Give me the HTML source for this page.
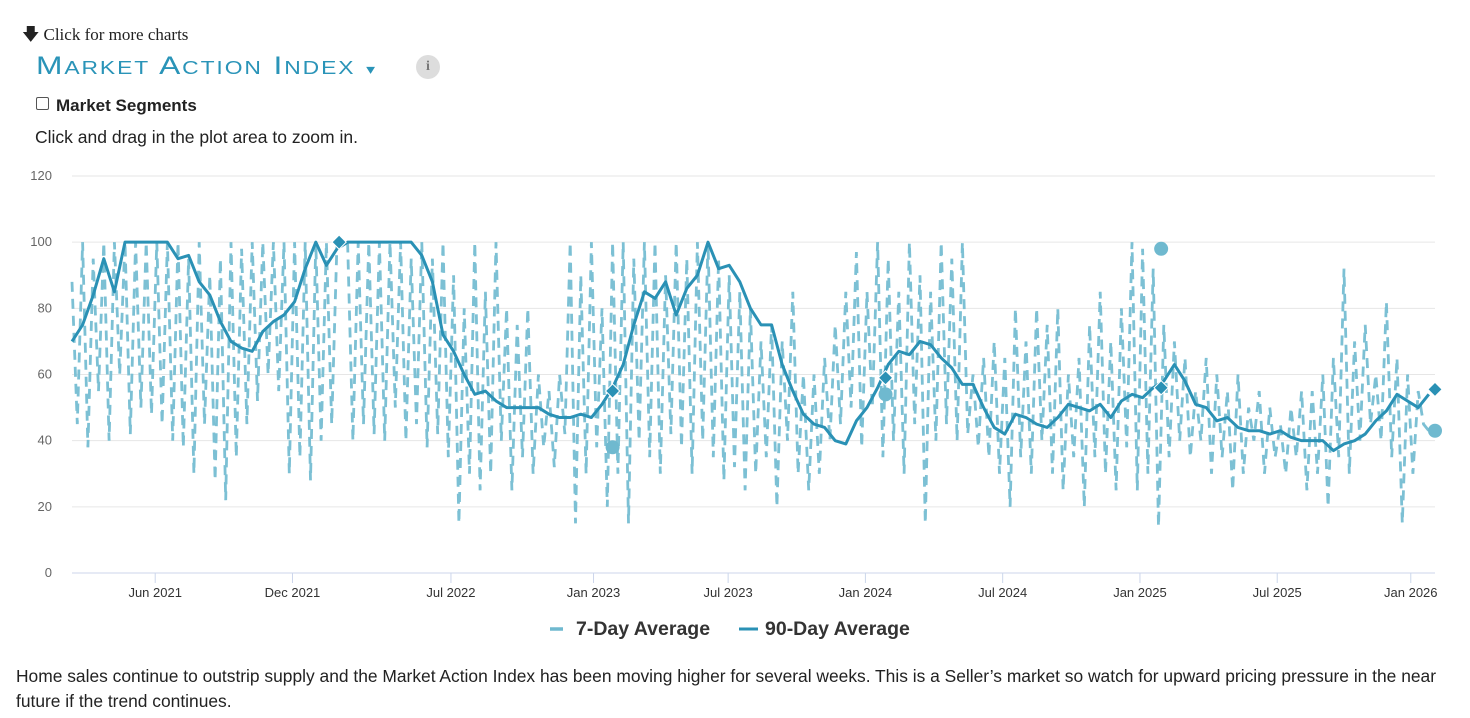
<!DOCTYPE html>
<html><head><meta charset="utf-8"><style>
body{margin:0;width:1470px;height:718px;background:#fff;font-family:"Liberation Sans",Arial,sans-serif;color:#333;position:relative;overflow:hidden}
.a{position:absolute;white-space:nowrap}
</style></head><body>
<div class="a" style="left:22px;top:22px;font-family:'Liberation Serif',serif;font-size:17px;color:#222">&#x1F847;&#xFE0E;<span style="margin-left:4px">Click for more charts</span></div>
<div class="a" style="left:36px;top:52px;font-size:25px;color:#2a94b8;font-variant:small-caps;letter-spacing:1.5px;transform:scaleX(1.27);transform-origin:left">Market Action Index <span style="font-size:14px">&#9662;</span></div>
<div class="a" style="left:416px;top:55px;width:24px;height:24px;border-radius:50%;background:#ddd;color:#777;font-family:'Liberation Serif',serif;font-weight:bold;font-size:14px;text-align:center;line-height:24px">i</div>
<div class="a" style="left:36px;top:97px;width:11px;height:11px;border:1px solid #555;border-radius:2px"></div>
<div class="a" style="left:56px;top:96px;font-size:17px;font-weight:bold;color:#222">Market Segments</div>
<div class="a" style="left:35px;top:127px;font-size:17.5px;color:#222">Click and drag in the plot area to zoom in.</div>
<svg class="a" style="left:0;top:0" width="1470" height="718" id="chart"></svg>
<div class="a" style="left:16px;top:664px;font-size:17.4px;line-height:25px;color:#222;white-space:normal;width:1450px">Home sales continue to outstrip supply and the Market Action Index has been moving higher for several weeks. This is a Seller’s market so watch for upward pricing pressure in the near future if the trend continues.</div>
<script>
const yTicks=[0,20,40,60,80,100,120];
const xTickLabels=["Jun 2021","Dec 2021","Jul 2022","Jan 2023","Jul 2023","Jan 2024","Jul 2024","Jan 2025","Jul 2025","Jan 2026"];
const xTickWeeks=[15.7,41.6,71.5,98.4,123.8,149.7,175.6,201.5,227.4,252.6];
const sevenDay=[88,45,100,38,95,55,100,40,100,60,
100,42,100,50,100,48,100,45,100,40,
100,38,95,30,100,45,90,28,95,22,
100,35,98,45,100,52,100,60,100,55,
100,30,100,35,100,28,100,40,100,45,
100,100,100,40,100,45,100,42,100,40,
100,50,100,40,95,45,100,38,95,42,
100,35,90,15,80,30,100,25,85,30,
100,40,80,25,75,35,80,30,60,38,
55,32,60,42,100,15,90,30,100,38,
80,20,100,30,100,15,95,40,100,35,
100,30,90,42,100,38,95,30,100,40,
100,35,95,28,90,32,85,25,80,30,
70,35,75,20,70,40,85,30,60,25,
60,30,65,40,75,45,85,50,97,38,
85,50,100,35,95,40,85,30,100,45,
90,15,85,40,100,45,95,40,100,42,
60,38,65,35,70,30,65,20,80,35,
70,30,80,40,75,30,80,25,60,35,
65,20,75,35,85,30,70,25,80,38,
100,25,98,30,92,14,75,35,70,40,
65,35,55,40,65,30,60,35,55,25,
60,30,50,40,55,30,50,35,45,30,
50,35,55,25,55,30,60,20,65,35,
92,30,70,40,75,45,60,40,82,35,
65,15,60,30,55,45,43];
const ninetyDay=[70,75,84,95,85,100,100,100,100,100,95,96,88,84,76,70,68,67,73,76,78,82,92,100,93,98,100,100,100,100,100,100,100,96,88,72,67,60,54,55,52,50,50,50,50,48,47,47,48,47,51,56,63,75,85,83,88,78,86,90,100,92,93,88,80,75,75,63,55,48,45,44,40,39,46,50,56,63,67,66,70,69,65,62,57,57,50,44,42,48,47,45,44,47,51,50,49,51,47,52,54,53,56,58,63,58,51,50,46,47,44,43,43,42,43,41,40,40,40,37,39,40,42,46,49,54,52,50,54];
const markerWeeks=[50.4,102,153.5,205.5,258];
const markerNinety=[100,55,59,56,55.5];
const circleWeeks=[102,153.5,205.5,258];
const circleSeven=[38,54,98,43];
const X0=72,X1=1435,Y0=573,YTOP=176;
const xs=w=>X0+w*5.3, ys=v=>Y0-(v/120)*(Y0-YTOP);
const svg=document.getElementById('chart'),NS='http://www.w3.org/2000/svg';
function mk(t,a){const e=document.createElementNS(NS,t);for(const k in a)e.setAttribute(k,a[k]);svg.appendChild(e);return e;}
yTicks.forEach(v=>{
 const l=mk('line',{x1:X0,x2:X1,y1:ys(v),y2:ys(v),stroke:v===0?'#ccd6eb':'#e6e6e6','stroke-width':1});
 
 
 const t=mk('text',{x:52,y:ys(v)+4,'text-anchor':'end','font-size':13,fill:'#666'});t.textContent=v;
 
 
});
xTickLabels.forEach((s,i)=>{
 const x=xs(xTickWeeks[i]);
 const l=mk('line',{x1:x,x2:x,y1:Y0,y2:Y0+10,stroke:'#ccd6eb'});
 
 
 const t=mk('text',{x:x,y:597,'text-anchor':'middle','font-size':13,fill:'#333'});t.textContent=s;
 
 
});
const p7=mk('polyline',{points:sevenDay.map((v,i)=>xs(i)+','+ys(v)).join(' '),fill:'none',stroke:'#7cc0d4','stroke-width':2.8,'stroke-dasharray':'10,7'});


const p90=mk('polyline',{points:ninetyDay.map((v,i)=>xs(i*2)+','+ys(v)).join(' '),fill:'none',stroke:'#2a91b5','stroke-width':3,'stroke-linejoin':'round'});


circleWeeks.forEach((w,i)=>{
 const c=mk('circle',{cx:Math.min(xs(w),X1),cy:ys(circleSeven[i]),r:7,fill:'#6fb9cf'});
 
 
});
markerWeeks.forEach((w,i)=>{
 const x=Math.min(xs(w),X1),y=ys(markerNinety[i]);
 const d=mk('rect',{x:x-5,y:y-5,width:10,height:10,fill:'#2a91b5',stroke:'#fff','stroke-width':1,transform:`rotate(45 ${x} ${y})`});
 
 
});
const li1=mk('line',{x1:550,x2:563,y1:629,y2:629,stroke:'#6fb9cf','stroke-width':3.5});


const lt1=mk('text',{x:576,y:635,'font-size':19.5,'font-weight':'bold',fill:'#333'});lt1.textContent='7-Day Average';


const li2=mk('line',{x1:739,x2:758,y1:629,y2:629,stroke:'#2a91b5','stroke-width':3});


const lt2=mk('text',{x:765,y:635,'font-size':19.5,'font-weight':'bold',fill:'#333'});lt2.textContent='90-Day Average';


</script>
</body></html>
